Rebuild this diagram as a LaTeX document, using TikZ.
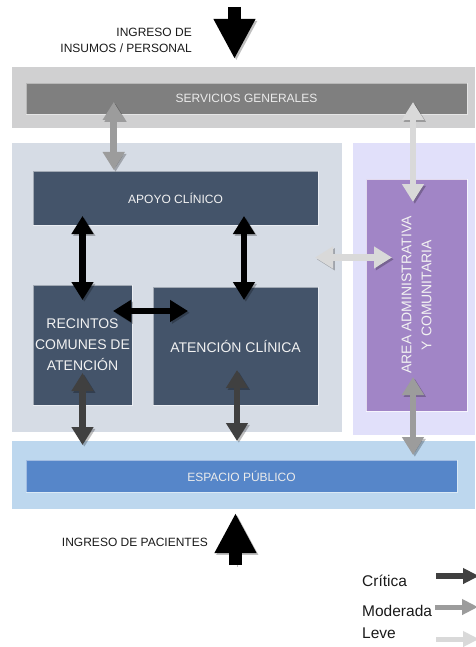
\documentclass[tikz,border=0pt]{standalone}
\usepackage{fontspec}
\setmainfont{Liberation Sans}
\usetikzlibrary{arrows.meta}
\definecolor{bandgray}{HTML}{D0D0D1}
\definecolor{servgray}{HTML}{7F7F7F}
\definecolor{leftpanel}{HTML}{D6DCE5}
\definecolor{rightpanel}{HTML}{E1E0FA}
\definecolor{unitblue}{HTML}{44546A}
\definecolor{areapurple}{HTML}{A185C6}
\definecolor{espband}{HTML}{BDD7EE}
\definecolor{espbar}{HTML}{5686C9}
\definecolor{critblack}{HTML}{000000}
\definecolor{critdark}{HTML}{404040}
\definecolor{modgray}{HTML}{9C9C9C}
\definecolor{levegray}{HTML}{D9D9D9}
\definecolor{labeltext}{HTML}{1A1A1A}
\tikzset{
  region/.style={anchor=north west, inner sep=0pt, outer sep=0pt},
  unitbox/.style={region, draw=white, draw opacity=0.5, line width=0.7pt, text=white!95!black, align=center, font=\fontsize{14}{21}\selectfont},
  barbox/.style={region, draw=white, draw opacity=0.45, line width=0.7pt, text=white!92!black, font=\fontsize{12}{15}\selectfont},
  outlabel/.style={text=labeltext, inner sep=0pt, font=\fontsize{12}{16}\selectfont},
  leglabel/.style={text=labeltext, inner sep=0pt, anchor=west, font=\fontsize{15.5}{18}\selectfont},
  arrshadow/.style={preaction={draw=black, opacity=0.25, transform canvas={shift={(1.8pt,-1.8pt)}}}},
  dbl/.style={line width=6.5pt, {Triangle[width=21pt,length=18pt]}-{Triangle[width=21pt,length=18pt]}, arrshadow},
  bigarr/.style={line width=13pt, -{Triangle[width=39pt,length=40pt]}, arrshadow},
  legarr/.style={line width=6pt, -{Triangle[width=15pt,length=16pt]}},
}
\begin{document}
\begin{tikzpicture}[x=1pt,y=-1pt]
\useasboundingbox (0,0) rectangle (475,647);
% background bands and panels
\node[region, fill=bandgray, minimum width=463pt, minimum height=61pt] (gband) at (12,67) {};
\node[barbox, fill=servgray, minimum width=441pt, minimum height=31pt] (serv) at (26,83) {SERVICIOS GENERALES};
\node[region, fill=leftpanel, minimum width=330pt, minimum height=289pt] (lpanel) at (12,143) {};
\node[region, fill=rightpanel, minimum width=122pt, minimum height=292pt] (rpanel) at (353,143) {};
\node[region, fill=espband, minimum width=463pt, minimum height=68pt] (eband) at (12,441) {};
\node[barbox, fill=espbar, minimum width=431pt, minimum height=32pt] (esp) at (26,460) {ESPACIO PÚBLICO};
% units
\node[unitbox, fill=unitblue, minimum width=285pt, minimum height=54pt, font=\fontsize{12}{15}\selectfont] (apoyo) at (33,171) {APOYO CLÍNICO};
\node[unitbox, fill=unitblue, minimum width=99pt, minimum height=120pt] (rec) at (33,285) {RECINTOS\\COMUNES DE\\ATENCIÓN};
\node[unitbox, fill=unitblue, minimum width=165pt, minimum height=118pt] (aten) at (153,287) {ATENCIÓN CLÍNICA};
\node[unitbox, fill=areapurple, minimum width=101pt, minimum height=232pt, draw opacity=0.7] (area) at (366,179) {};
\node[text=white!95!black, align=center, rotate=90, inner sep=0pt, font=\fontsize{14}{20}\selectfont] (areatxt) at (area.center) {AREA ADMINISTRATIVA\\Y COMUNITARIA};
% outside labels
\node[outlabel, align=right, anchor=east] (insumos) at (192,40) {INGRESO DE\\INSUMOS / PERSONAL};
\node[outlabel, anchor=east] (pacientes) at (208,542) {INGRESO DE PACIENTES};
% arrow end points
\coordinate (inTop) at (234.5,7);
\coordinate (inTopEnd) at (234.5,59);
\coordinate (inBot) at (235.5,565);
\coordinate (inBotEnd) at (235.5,513);
\coordinate (sa1) at (113.7,102); \coordinate (sa2) at (113.7,170);
\coordinate (sr1) at (413,102);   \coordinate (sr2) at (413,202);
\coordinate (ar1) at (82.5,216);  \coordinate (ar2) at (82.5,300);
\coordinate (at1) at (244,216);   \coordinate (at2) at (244,300);
\coordinate (ra1) at (113,311);   \coordinate (ra2) at (188,311);
\coordinate (lr1) at (315,257.5); \coordinate (lr2) at (392,257.5);
\coordinate (re1) at (82.5,373);  \coordinate (re2) at (82.5,445);
\coordinate (te1) at (237,370);   \coordinate (te2) at (237,441);
\coordinate (ae1) at (413,377);   \coordinate (ae2) at (413,455);
% connectors
\draw[bigarr, critblack] (inTop) -- (inTopEnd);
\draw[bigarr, critblack] (inBot) -- (inBotEnd);
\draw[dbl, modgray] (sa1) -- (sa2);
\draw[dbl, levegray] (sr1) -- (sr2);
\draw[dbl, critblack] (ar1) -- (ar2);
\draw[dbl, critblack] (at1) -- (at2);
\draw[dbl, critblack] (ra1) -- (ra2);
\draw[dbl, levegray] (lr1) -- (lr2);
\draw[dbl, critdark] (re1) -- (re2);
\draw[dbl, critdark] (te1) -- (te2);
\draw[dbl, modgray] (ae1) -- (ae2);
% legend
\node[leglabel] (lcrit) at (362,581) {Crítica};
\node[leglabel] (lmod) at (362,611) {Moderada};
\node[leglabel] (lleve) at (362,633) {Leve};
\coordinate (lc1) at (436,576); \coordinate (lc2) at (479,576);
\coordinate (lm1) at (435,607); \coordinate (lm2) at (478,607);
\coordinate (ll1) at (436,639); \coordinate (ll2) at (479,639);
\draw[legarr, critdark] (lc1) -- (lc2);
\draw[legarr, modgray, line width=5pt] (lm1) -- (lm2);
\draw[legarr, levegray, line width=5pt] (ll1) -- (ll2);
\end{tikzpicture}
\end{document}
